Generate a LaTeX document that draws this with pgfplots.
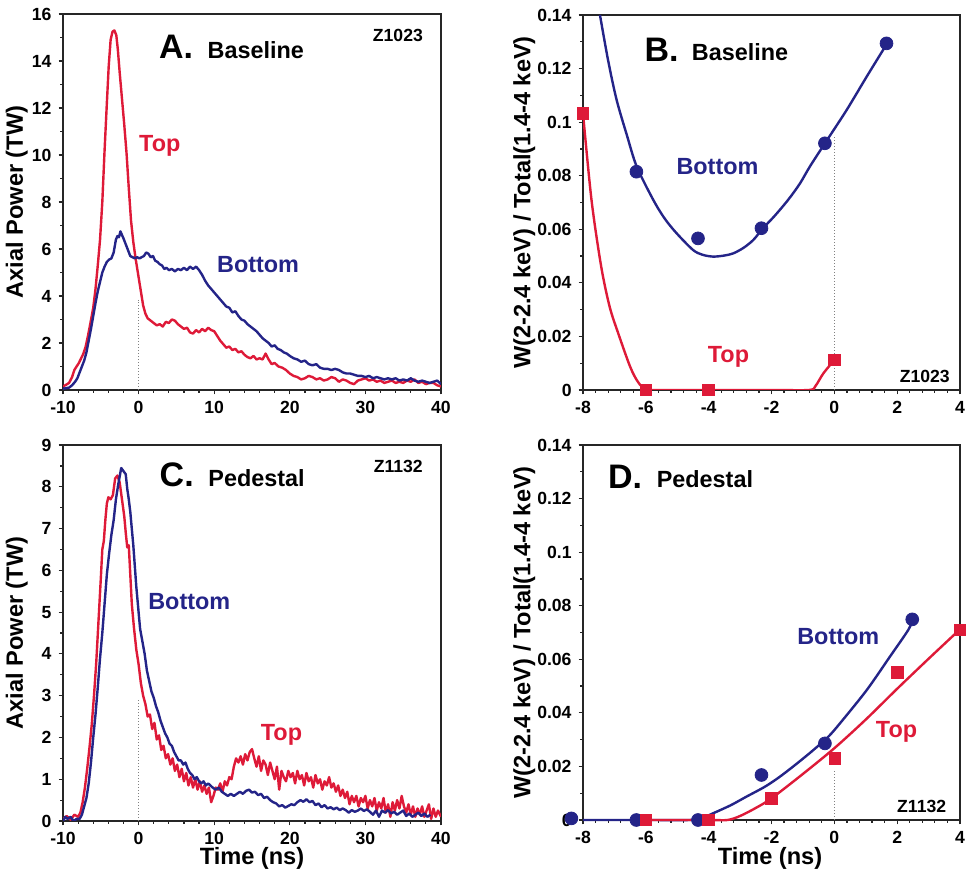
\documentclass[border=0pt]{standalone}
\usepackage{fontspec}
\setmainfont{Liberation Sans}
\usepackage{pgfplots}
\pgfplotsset{compat=1.18}
\definecolor{topred}{RGB}{222,26,56}
\definecolor{botblue}{RGB}{36,36,136}

\pgfplotsset{
  panel/.style={
    scale only axis,
    anchor=south west,
    axis line style={line width=0.9pt, black!85},
    tick align=outside,
    xtick pos=bottom, ytick pos=left,
    major tick length=2.2pt, minor tick length=1.3pt,
    every tick/.style={black!85, line width=0.6pt},
    tick label style={font=\bfseries\fontsize{8.8}{10}\selectfont},
    /pgf/number format/assume math mode=true,
    label style={font=\bfseries\fontsize{11.8}{13}\selectfont},
    clip mode=individual,
  },
  power/.style={panel, width=189pt, height=188pt,
    xmin=-10, xmax=40, xtick={-10,0,...,40}, minor x tick num=4,
    ylabel={Axial Power (TW)},
    ylabel style={at={(axis description cs:-0.122,0.5)}, anchor=center}},
  ratio/.style={panel, width=188.5pt, height=187.5pt,
    xmin=-8, xmax=4, xtick={-8,-6,...,4}, minor x tick num=4,
    ymin=0, ymax=0.14, ytick={0,0.02,...,0.141}, minor y tick num=1,
    scaled y ticks=false,
    yticklabel style={/pgf/number format/fixed, /pgf/number format/precision=2},
    ylabel={W(2-2.4 keV) / Total(1.4-4 keV)},
    ylabel style={at={(axis description cs:-0.156,0.5)}, anchor=center}},
  trace/.style={line width=1.2pt, line join=round, no markers},
  fit/.style={line width=1.2pt, smooth, tension=0.5, no markers},
  zeroline/.style={gray, line width=0.5pt, densely dotted, no markers},
}
\newcommand{\panelid}[1]{{\bfseries\fontsize{17}{19}\selectfont #1}}
\newcommand{\lab}[1]{{\bfseries\fontsize{11.7}{13}\selectfont #1}}
\newcommand{\shot}[1]{{\bfseries\fontsize{8.8}{10}\selectfont #1}}

\begin{document}
\begin{tikzpicture}
\path[use as bounding box] (0,0) rectangle (484.5pt,436pt);

% ---------------- A. Baseline ----------------
\begin{axis}[power, at={(31.5pt,241pt)},
  ymin=0, ymax=16, ytick={0,2,...,16}, minor y tick num=1]
\addplot[zeroline] coordinates {(0,0) (0,3.85)};
\addplot[trace, topred] coordinates {
(-10,0.15) (-9.6,0.22) (-9.2,0.3) (-8.8,0.55) (-8.5,0.85) (-8.2,1.0) (-7.9,1.15)
(-7.6,1.35) (-7.3,1.55) (-7.0,1.85) (-6.7,2.3) (-6.4,2.8) (-6.0,3.5) (-5.7,4.3)
(-5.4,5.3) (-5.1,6.4) (-4.8,8.0) (-4.5,10.2) (-4.2,12.2) (-3.95,13.8) (-3.7,14.9)
(-3.45,15.25) (-3.2,15.3) (-2.95,15.1) (-2.75,14.5) (-2.5,13.5) (-2.2,12.4)
(-1.9,11.3) (-1.6,10.1) (-1.3,8.6) (-1.0,7.2) (-0.7,6.3) (-0.4,5.6) (0,4.8)
(0.3,4.2) (0.6,3.6) (0.9,3.25) (1.2,3.05) (1.6,2.95) (2.0,2.85) (2.4,2.75)
(2.8,2.8) (3.2,2.7) (3.6,2.9) (4.0,2.85) (4.4,3.0) (4.8,2.95) (5.2,2.8) (5.6,2.7)
(6.0,2.6) (6.4,2.65) (6.8,2.45) (7.2,2.4) (7.6,2.55) (8.0,2.45) (8.4,2.6)
(8.8,2.5) (9.2,2.65) (9.6,2.55) (10.0,2.5) (10.4,2.3) (10.8,2.1) (11.2,1.95)
(11.6,1.8) (12.0,1.85) (12.4,1.7) (12.8,1.75) (13.2,1.6) (13.6,1.65) (14.0,1.5)
(14.4,1.4) (14.8,1.35) (15.2,1.45) (15.6,1.3) (16.0,1.35) (16.4,1.3) (16.8,1.55)
(17.2,1.3) (17.6,1.1) (18.0,1.15) (18.5,1.0) (19.0,0.95) (19.5,0.85) (20.0,0.7)
(20.5,0.6) (21.0,0.55) (21.5,0.45) (22.0,0.5) (22.5,0.6) (23.0,0.55) (23.5,0.45)
(24.0,0.5) (24.5,0.4) (25.0,0.45) (25.5,0.55) (26.0,0.5) (26.5,0.35) (27.0,0.45)
(27.5,0.4) (28.0,0.3) (28.5,0.25) (29.0,0.4) (29.5,0.45) (30.0,0.5) (30.5,0.4)
(31.0,0.45) (31.5,0.35) (32.0,0.4) (32.5,0.3) (33.0,0.35) (33.5,0.4) (34.0,0.3)
(34.5,0.35) (35.0,0.3) (35.5,0.4) (36.0,0.35) (36.5,0.45) (37.0,0.3) (37.5,0.35)
(38.0,0.25) (38.5,0.3) (39.0,0.3) (39.5,0.2) (40.0,0.15)};
\addplot[trace, botblue] coordinates {
(-10,0.05) (-9.6,0.08) (-9.2,0.1) (-8.8,0.2) (-8.4,0.35) (-8.1,0.5) (-7.8,0.75)
(-7.5,1.0) (-7.2,1.25) (-6.9,1.6) (-6.6,2.1) (-6.3,2.6) (-6.0,3.15) (-5.7,3.7)
(-5.4,4.2) (-5.1,4.6) (-4.8,5.0) (-4.5,5.25) (-4.2,5.45) (-3.9,5.55) (-3.6,5.6)
(-3.3,5.85) (-3.0,6.4) (-2.8,6.55) (-2.6,6.5) (-2.4,6.75) (-2.2,6.6) (-2.0,6.45)
(-1.7,6.2) (-1.4,5.95) (-1.1,5.7) (-0.8,5.65) (-0.5,5.6) (-0.2,5.65) (0.1,5.6)
(0.4,5.65) (0.7,5.7) (1.0,5.85) (1.3,5.8) (1.6,5.65) (1.9,5.7) (2.2,5.5)
(2.5,5.45) (2.8,5.35) (3.1,5.3) (3.4,5.15) (3.7,5.2) (4.0,5.1) (4.4,5.15)
(4.8,5.05) (5.2,5.15) (5.6,5.1) (6.0,5.2) (6.4,5.1) (6.8,5.25) (7.2,5.15)
(7.6,5.25) (8.0,5.1) (8.4,4.9) (8.8,4.65) (9.2,4.45) (9.6,4.3) (10.0,4.15)
(10.4,4.0) (10.8,3.85) (11.2,3.7) (11.6,3.55) (12.0,3.5) (12.4,3.3) (12.8,3.35)
(13.2,3.15) (13.6,3.0) (14.0,2.95) (14.4,2.8) (14.8,2.7) (15.2,2.6) (15.6,2.5)
(16.0,2.35) (16.4,2.2) (16.8,2.1) (17.2,2.0) (17.6,1.85) (18.0,1.9) (18.4,1.75)
(18.8,1.7) (19.2,1.6) (19.6,1.55) (20.0,1.45) (20.5,1.35) (21.0,1.3) (21.5,1.2)
(22.0,1.25) (22.5,1.1) (23.0,1.05) (23.5,1.1) (24.0,0.95) (24.5,0.9) (25.0,0.9)
(25.5,0.85) (26.0,0.9) (26.5,0.85) (27.0,0.75) (27.5,0.7) (28.0,0.7) (28.5,0.65)
(29.0,0.6) (29.5,0.6) (30.0,0.55) (30.5,0.6) (31.0,0.5) (31.5,0.55) (32.0,0.5)
(32.5,0.45) (33.0,0.5) (33.5,0.45) (34.0,0.5) (34.5,0.4) (35.0,0.45) (35.5,0.4)
(36.0,0.5) (36.5,0.4) (37.0,0.35) (37.5,0.4) (38.0,0.35) (38.5,0.3) (39.0,0.35)
(39.5,0.4) (40.0,0.25)};
\node at (axis cs:4.95,14.6) {\panelid{A.}};
\node at (axis cs:15.5,14.45) {\lab{Baseline}};
\node at (axis cs:34.3,15.1) {\shot{Z1023}};
\node[text=topred] at (axis cs:2.8,10.4) {\lab{Top}};
\node[text=botblue] at (axis cs:15.8,5.35) {\lab{Bottom}};
\end{axis}

% ---------------- B. Baseline ----------------
\begin{axis}[ratio, at={(291.5pt,241pt)}]
\addplot[zeroline] coordinates {(0,0) (0,0.0946)};
\addplot[fit, botblue] coordinates {
(-7.46,0.14) (-7.2,0.123) (-6.93,0.1083) (-6.6,0.095) (-6.29,0.0834)
(-5.76,0.0709) (-5.4,0.064) (-5.02,0.0585) (-4.5,0.0523) (-4.2,0.0505)
(-3.86,0.0498) (-3.5,0.0502) (-3.22,0.051) (-2.9,0.053) (-2.58,0.056)
(-2.27,0.0604) (-1.9,0.065) (-1.47,0.071) (-1.1,0.077) (-0.78,0.0834)
(-0.3,0.0921) (0.39,0.1045) (1.03,0.117) (1.66,0.129)};
\addplot[fit, topred] coordinates {
(-8,0.1033) (-7.73,0.071) (-7.42,0.046) (-7.15,0.031) (-6.88,0.0212)
(-6.5,0.0087) (-6.25,0.003) (-6.0,0.0003) (-5.5,0) (-4,0) (-2,0) (-0.8,0)
(-0.6,0.0015) (-0.35,0.0062) (0,0.0112)};
\addplot[only marks, mark=*, mark size=3.2pt, botblue] coordinates {
(-6.3,0.0815) (-4.34,0.0566) (-2.32,0.0604) (-0.3,0.0921) (1.66,0.1294)};
\addplot[only marks, mark=square*, mark size=2.9pt, topred] coordinates {
(-8,0.1033) (-6,0) (-4,0) (-2,-0.0012) (0,0.0112)};
\node at (axis cs:-5.5,0.127) {\panelid{B.}};
\node at (axis cs:-3.0,0.126) {\lab{Baseline}};
\node[text=botblue] at (axis cs:-3.72,0.0834) {\lab{Bottom}};
\node[text=topred] at (axis cs:-3.37,0.0124) {\lab{Top}};
\node at (axis cs:2.88,0.005) {\shot{Z1023}};
\end{axis}

% ---------------- C. Pedestal ----------------
\begin{axis}[power, at={(31.5pt,25.5pt)},
  ymin=0, ymax=9, ytick={0,1,...,9}, minor y tick num=1,
  xlabel={Time (ns)},
  xlabel style={at={(axis description cs:0.5,-0.099)}, anchor=center}]
\addplot[zeroline] coordinates {(0,0) (0,2.93)};
\addplot[trace, topred] coordinates {
(-10,0.05) (-9.5,0.12) (-9.0,0.03) (-8.5,0.15) (-8.0,0.1) (-7.7,0.2) (-7.4,0.45)
(-7.1,0.8) (-6.8,1.25) (-6.5,1.75) (-6.2,2.3) (-5.9,3.0) (-5.6,3.8) (-5.3,4.8)
(-5.0,5.8) (-4.8,6.5) (-4.6,6.7) (-4.4,7.2) (-4.2,7.6) (-4.0,7.75) (-3.7,7.7)
(-3.4,7.8) (-3.1,8.2) (-2.8,8.27) (-2.5,8.1) (-2.2,7.7) (-1.9,7.3) (-1.7,6.9)
(-1.5,6.55) (-1.3,6.6) (-1.1,5.9) (-0.9,5.2) (-0.6,4.6) (-0.3,4.1) (0.0,3.75)
(0.3,3.3) (0.6,3.0) (0.9,2.8) (1.2,2.5) (1.5,2.55) (1.8,2.2) (2.1,2.35) (2.4,1.95)
(2.7,2.05) (3.0,1.7) (3.3,1.8) (3.6,1.5) (3.9,1.6) (4.2,1.35) (4.5,1.5) (4.8,1.2)
(5.1,1.35) (5.4,1.05) (5.7,1.25) (6.0,0.95) (6.3,1.15) (6.6,0.85) (6.9,1.05)
(7.2,0.8) (7.5,1.0) (7.8,0.75) (8.1,0.95) (8.4,0.7) (8.7,0.85) (9.0,0.65)
(9.3,0.8) (9.6,0.45) (9.9,0.6) (10.2,0.8) (10.5,0.75) (10.8,0.9) (11.1,0.7)
(11.4,0.95) (11.7,0.85) (12.0,1.05) (12.3,1.0) (12.6,1.3) (12.9,1.5) (13.2,1.4)
(13.5,1.55) (13.8,1.35) (14.1,1.6) (14.4,1.45) (14.7,1.65) (15.0,1.72) (15.3,1.5)
(15.6,1.3) (15.9,1.55) (16.2,1.2) (16.5,1.45) (16.8,1.35) (17.1,1.1) (17.4,1.4)
(17.7,1.2) (18.0,1.0) (18.3,1.3) (18.6,0.75) (18.9,1.2) (19.2,1.05) (19.5,0.95)
(19.8,1.2) (20.1,1.05) (20.4,1.15) (20.7,0.9) (21.0,1.2) (21.3,1.0) (21.6,1.1)
(21.9,0.85) (22.2,1.15) (22.5,0.95) (22.8,1.05) (23.1,0.8) (23.4,1.1) (23.7,0.9)
(24.0,1.0) (24.3,0.75) (24.6,0.95) (24.9,0.85) (25.2,1.05) (25.5,0.8) (25.8,0.9)
(26.1,0.7) (26.4,0.85) (26.7,0.6) (27.0,0.75) (27.3,0.55) (27.6,0.7) (27.9,0.4)
(28.2,0.6) (28.5,0.45) (28.8,0.6) (29.1,0.35) (29.4,0.55) (29.7,0.45) (30.0,0.6)
(30.3,0.3) (30.6,0.5) (30.9,0.35) (31.2,0.55) (31.5,0.25) (31.8,0.45) (32.1,0.3)
(32.4,0.55) (32.7,0.2) (33.0,0.4) (33.3,0.1) (33.6,0.45) (33.9,0.25) (34.2,0.5)
(34.5,0.3) (34.8,0.6) (35.1,0.35) (35.4,0.2) (35.7,0.4) (36.0,0.15) (36.3,0.35)
(36.6,0.1) (36.9,0.3) (37.2,0.15) (37.5,0.35) (37.8,0.1) (38.1,0.25) (38.4,0.4)
(38.7,0.05) (39.0,0.3) (39.3,0.1) (39.6,0.25) (40.0,0.1)};
\addplot[trace, botblue] coordinates {
(-10,0.0) (-9.7,0.1) (-9.4,0.05) (-9.0,0.1) (-8.6,0.0) (-8.2,0.05) (-7.8,0.05)
(-7.5,0.15) (-7.2,0.35) (-6.9,0.55) (-6.6,0.9) (-6.3,1.4) (-6.0,2.0) (-5.7,2.55)
(-5.4,3.2) (-5.1,3.9) (-4.8,4.5) (-4.5,5.2) (-4.2,5.9) (-3.9,6.4) (-3.6,6.85)
(-3.3,7.2) (-3.0,7.7) (-2.7,8.05) (-2.5,8.25) (-2.3,8.45) (-2.1,8.4) (-1.9,8.35)
(-1.7,8.3) (-1.5,7.95) (-1.3,7.7) (-1.1,7.4) (-0.9,7.0) (-0.7,6.6) (-0.5,6.1)
(-0.3,5.6) (-0.1,5.2) (0.2,4.6) (0.5,4.3) (0.8,4.0) (1.1,3.6) (1.4,3.35)
(1.7,3.1) (2.0,2.95) (2.3,2.75) (2.6,2.6) (2.9,2.4) (3.2,2.25) (3.5,2.1)
(3.8,2.0) (4.1,1.85) (4.4,1.8) (4.7,1.65) (5.0,1.55) (5.3,1.45) (5.6,1.45)
(5.9,1.35) (6.2,1.4) (6.5,1.25) (6.8,1.15) (7.1,1.1) (7.4,1.0) (7.7,1.05)
(8.0,0.95) (8.3,0.9) (8.6,0.95) (8.9,0.85) (9.2,0.9) (9.5,0.85) (9.8,0.8)
(10.2,0.75) (10.6,0.8) (11.0,0.7) (11.4,0.65) (11.8,0.6) (12.2,0.65) (12.6,0.6)
(13.0,0.65) (13.4,0.7) (13.8,0.65) (14.2,0.72) (14.6,0.75) (15.0,0.68) (15.4,0.7)
(15.8,0.62) (16.2,0.65) (16.6,0.55) (17.0,0.58) (17.4,0.5) (17.8,0.45) (18.2,0.42)
(18.6,0.35) (19.0,0.38) (19.4,0.32) (19.8,0.36) (20.2,0.4) (20.6,0.38) (21.0,0.45)
(21.4,0.5) (21.8,0.46) (22.2,0.52) (22.6,0.45) (23.0,0.48) (23.4,0.38) (23.8,0.42)
(24.2,0.33) (24.6,0.38) (25.0,0.3) (25.4,0.33) (25.8,0.28) (26.2,0.32) (26.6,0.26)
(27.0,0.3) (27.4,0.26) (27.8,0.2) (28.2,0.26) (28.6,0.22) (29.0,0.25) (29.4,0.3)
(29.8,0.24) (30.2,0.28) (30.6,0.22) (31.0,0.15) (31.4,0.25) (31.8,0.1) (32.2,0.25)
(32.6,0.2) (33.0,0.26) (33.4,0.18) (33.8,0.22) (34.2,0.15) (34.6,0.2) (35.0,0.25)
(35.4,0.12) (35.8,0.18) (36.2,0.1) (36.6,0.15) (37.0,0.2) (37.4,0.12) (37.8,0.18)
(38.2,0.1) (38.6,0.15)};
\node at (axis cs:5.04,8.28) {\panelid{C.}};
\node at (axis cs:15.6,8.2) {\lab{Pedestal}};
\node at (axis cs:34.35,8.48) {\shot{Z1132}};
\node[text=botblue] at (axis cs:6.7,5.25) {\lab{Bottom}};
\node[text=topred] at (axis cs:18.9,2.06) {\lab{Top}};
\end{axis}

% ---------------- D. Pedestal ----------------
\begin{axis}[ratio, at={(291.5pt,26pt)}, clip=false,
  xlabel={Time (ns)},
  xlabel style={at={(axis description cs:0.496,-0.102)}, anchor=center}]
\addplot[zeroline] coordinates {(0,0) (0,0.0187)};
\addplot[fit, botblue] coordinates {
(-8,0) (-6,0) (-4.6,0) (-4.2,0.0008) (-3.86,0.0025) (-3.3,0.0055)
(-2.8,0.0087) (-2.2,0.0125) (-1.73,0.0162) (-1.2,0.021) (-0.67,0.0261)
(-0.2,0.031) (0.18,0.0361) (1.03,0.0485) (1.77,0.061) (2.35,0.0709) (2.48,0.0745)};
\addplot[fit, topred] coordinates {
(-6,0) (-4,0) (-3.4,0) (-3.0,0.0015) (-2.5,0.0045) (-2.0,0.0081) (-1.0,0.0172)
(0,0.0268) (1,0.0375) (2,0.049) (3,0.0602) (4,0.0712)};
\addplot[only marks, mark=*, mark size=3.2pt, botblue] coordinates {
(-8.37,0.0006) (-6.3,0) (-4.34,0) (-2.32,0.0168) (-0.3,0.0286) (2.48,0.0749)};
\addplot[only marks, mark=square*, mark size=2.9pt, topred] coordinates {
(-6,0) (-4,0) (-2,0.0081) (0.02,0.023) (2,0.055) (4,0.0709)};
\node at (axis cs:-6.66,0.128) {\panelid{D.}};
\node at (axis cs:-4.12,0.1272) {\lab{Pedestal}};
\node[text=botblue] at (axis cs:0.125,0.0684) {\lab{Bottom}};
\node[text=topred] at (axis cs:1.98,0.033) {\lab{Top}};
\node at (axis cs:2.78,0.0052) {\shot{Z1132}};
\end{axis}
\end{tikzpicture}
\end{document}
